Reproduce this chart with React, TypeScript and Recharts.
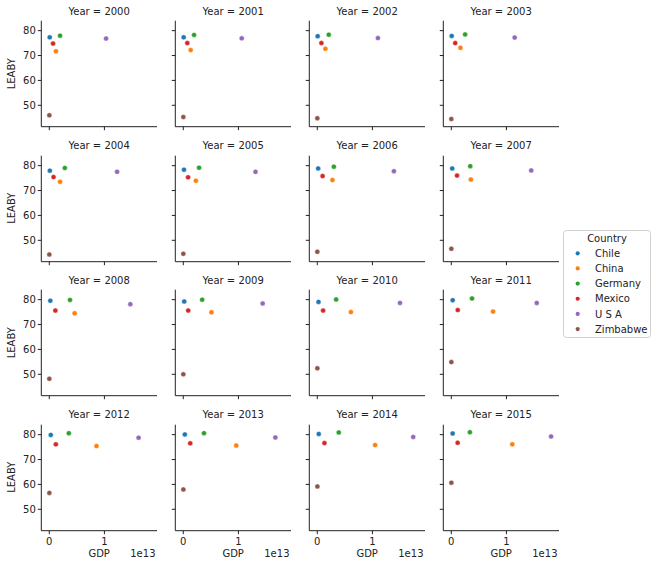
import React from 'react';
import { ScatterChart, Scatter, XAxis, YAxis } from 'recharts';

const YEARS = [2000, 2001, 2002, 2003, 2004, 2005, 2006, 2007, 2008, 2009, 2010, 2011, 2012, 2013, 2014, 2015];
const COUNTRIES = ['Chile', 'China', 'Germany', 'Mexico', 'U S A', 'Zimbabwe'];
const COLORS = ['#1f77b4', '#ff7f0e', '#2ca02c', '#d62728', '#9467bd', '#8c564b'];

const CHILE_GDP = [7.786e10, 7.097e10, 6.974e10, 7.564e10, 9.921e10, 1.2297e11, 1.5446e11, 1.7308e11, 1.7962e11, 1.7254e11, 2.1804e11, 2.5225e11, 2.6726e11, 2.7838e11, 2.6062e11, 2.4281e11];
const CHINA_GDP = [1.211e12, 1.339e12, 1.471e12, 1.66e12, 1.955e12, 2.286e12, 2.752e12, 3.552e12, 4.598e12, 5.11e12, 6.101e12, 7.573e12, 8.561e12, 9.607e12, 1.0482e13, 1.1065e13];
const GERMANY_GDP = [1.9499e12, 1.9505e12, 2.0792e12, 2.5058e12, 2.8191e12, 2.8614e12, 3.0026e12, 3.4398e12, 3.7524e12, 3.4183e12, 3.4171e12, 3.7577e12, 3.5435e12, 3.7528e12, 3.8903e12, 3.3756e12];
const MEXICO_GDP = [6.8365e11, 7.2416e11, 7.4156e11, 7.1317e11, 7.7002e11, 8.6681e11, 9.6534e11, 1.043e12, 1.101e12, 8.9495e11, 1.0512e12, 1.1715e12, 1.1869e12, 1.262e12, 1.2985e12, 1.1528e12];
const USA_GDP = [1.03e13, 1.06e13, 1.1e13, 1.15e13, 1.23e13, 1.31e13, 1.39e13, 1.45e13, 1.47e13, 1.44e13, 1.5e13, 1.55e13, 1.62e13, 1.67e13, 1.74e13, 1.81e13];
const ZIMBABWE_GDP = [6.69e9, 6.78e9, 6.34e9, 5.73e9, 5.81e9, 5.76e9, 5.44e9, 5.29e9, 4.42e9, 8.16e9, 1.01e10, 1.21e10, 1.42e10, 1.55e10, 1.59e10, 1.63e10];

const CHILE_LE = [77.3, 77.3, 77.8, 77.9, 78.0, 78.4, 78.9, 78.9, 79.6, 79.3, 79.1, 79.8, 79.9, 80.1, 80.3, 80.5];
const CHINA_LE = [71.7, 72.2, 72.7, 73.1, 73.5, 73.9, 74.2, 74.4, 74.5, 74.9, 75.0, 75.2, 75.4, 75.6, 75.8, 76.1];
const GERMANY_LE = [78.0, 78.3, 78.4, 78.5, 79.1, 79.2, 79.6, 79.8, 79.9, 80.0, 80.1, 80.5, 80.6, 80.6, 80.9, 81.0];
const MEXICO_LE = [74.8, 75.0, 75.0, 75.0, 75.4, 75.3, 75.8, 76.0, 75.6, 75.6, 75.6, 75.8, 76.1, 76.5, 76.6, 76.7];
const USA_LE = [76.8, 76.9, 77.0, 77.2, 77.5, 77.5, 77.8, 78.1, 78.2, 78.5, 78.7, 78.7, 78.8, 78.9, 79.1, 79.3];
const ZIMBABWE_LE = [46.0, 45.3, 44.8, 44.5, 44.3, 44.6, 45.4, 46.6, 48.2, 50.0, 52.4, 54.9, 56.6, 58.0, 59.2, 60.7];

const GDP_SERIES = [CHILE_GDP, CHINA_GDP, GERMANY_GDP, MEXICO_GDP, USA_GDP, ZIMBABWE_GDP];
const LE_SERIES = [CHILE_LE, CHINA_LE, GERMANY_LE, MEXICO_LE, USA_LE, ZIMBABWE_LE];

const X_TICKS = [0, 1e13];
const Y_TICKS = [50, 60, 70, 80];
const X_DOMAIN = [-0.145e13, 1.954e13];
const Y_DOMAIN = [41.4, 84.0];

const FONT = '"DejaVu Sans", sans-serif';
const INK = '#222';

const COL_STEP = 134;
const ROW_STEP = 134.5;
const PLOT_LEFT = 41.3;
const PLOT_TOP = 20.7;
const PLOT_W = 115.7;
const PLOT_H = 106;

const makeDot = (color: string) => (props: any) => (
  <circle cx={props.cx} cy={props.cy} r={2.5} fill={color} stroke="#fff" strokeWidth={0.4} />
);

function Panel({ index }: { index: number }) {
  const row = Math.floor(index / 4);
  const col = index % 4;
  const isBottom = row === 3;
  const isLeft = col === 0;
  const chartW = PLOT_LEFT + PLOT_W + 3;
  const chartH = PLOT_TOP + PLOT_H + 23.3;
  return (
    <div style={{ position: 'absolute', left: col * COL_STEP, top: row * ROW_STEP, width: chartW, height: chartH }}>
      <ScatterChart width={chartW} height={chartH} margin={{ top: PLOT_TOP, right: 3, bottom: 0, left: 0 }}>
        <XAxis
          type="number"
          dataKey="gdp"
          domain={X_DOMAIN}
          ticks={X_TICKS}
          allowDataOverflow
          height={23.3}
          tickSize={3.5}
          tickMargin={4}
          axisLine={{ stroke: INK, strokeWidth: 1 }}
          tickLine={{ stroke: INK, strokeWidth: 1 }}
          tick={{ fill: INK, fontSize: 10, fontFamily: FONT }}
          tickFormatter={(v: number) => (isBottom ? String(Math.round(v / 1e13)) : '')}
        />
        <YAxis
          type="number"
          dataKey="le"
          domain={Y_DOMAIN}
          ticks={Y_TICKS}
          allowDataOverflow
          width={PLOT_LEFT}
          tickSize={3.5}
          tickMargin={2}
          axisLine={{ stroke: INK, strokeWidth: 1 }}
          tickLine={{ stroke: INK, strokeWidth: 1 }}
          tick={{ fill: INK, fontSize: 10, fontFamily: FONT }}
          tickFormatter={(v: number) => (isLeft ? String(v) : '')}
        />
        {COUNTRIES.map((c, ci) => (
          <Scatter
            key={c}
            name={c}
            data={[{ gdp: GDP_SERIES[ci][index], le: LE_SERIES[ci][index] }]}
            fill={COLORS[ci]}
            shape={makeDot(COLORS[ci])}
            isAnimationActive={false}
          />
        ))}
      </ScatterChart>
    </div>
  );
}

export default function App() {
  return (
    <div style={{ position: 'absolute', left: 0, top: 0, width: 656, height: 568, background: '#fff' }}>
      {YEARS.map((y, i) => (
        <Panel key={y} index={i} />
      ))}
      <svg width={656} height={568} style={{ position: 'absolute', left: 0, top: 0, pointerEvents: 'none' }}>
        <g fontFamily={FONT} fontSize={10} fill={INK}>
          {YEARS.map((y, i) => {
            const row = Math.floor(i / 4);
            const col = i % 4;
            return (
              <text key={y} x={PLOT_LEFT + col * COL_STEP + PLOT_W / 2} y={row * ROW_STEP + 14.6} textAnchor="middle">
                {`Year = ${y}`}
              </text>
            );
          })}
          {[0, 1, 2, 3].map((r) => {
            const cy = PLOT_TOP + r * ROW_STEP + PLOT_H / 2;
            return (
              <text key={'yl' + r} x={0} y={0} textAnchor="middle" transform={`translate(15.3, ${cy}) rotate(-90)`}>
                LEABY
              </text>
            );
          })}
          {[0, 1, 2, 3].map((c) => (
            <g key={'xl' + c}>
              <text x={PLOT_LEFT + c * COL_STEP + PLOT_W / 2} y={557} textAnchor="middle">GDP</text>
              <text x={PLOT_LEFT + c * COL_STEP + PLOT_W - 1.5} y={557} textAnchor="end">1e13</text>
            </g>
          ))}
          <rect x={563.5} y={230.5} width={87} height={107} rx={3} fill="#fff" stroke="#d0d0d0" strokeWidth={1} />
          <text x={607} y={242.4} textAnchor="middle">Country</text>
          {COUNTRIES.map((c, ci) => {
            const cy = 253.3 + ci * 15.15;
            return (
              <g key={'lg' + c}>
                <circle cx={577.7} cy={cy} r={2.1} fill={COLORS[ci]} />
                <text x={595} y={cy + 3.6}>{c}</text>
              </g>
            );
          })}
        </g>
      </svg>
    </div>
  );
}
